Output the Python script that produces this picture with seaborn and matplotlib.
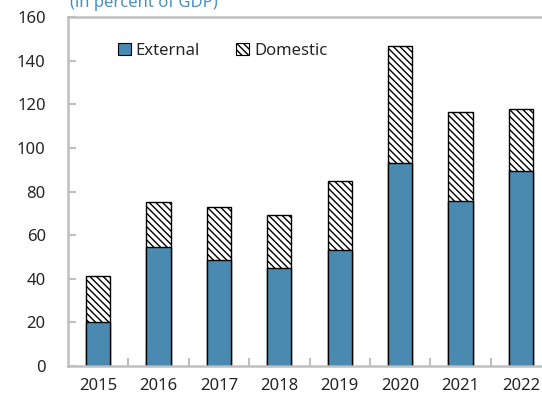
import matplotlib
matplotlib.use("Agg")
import matplotlib.pyplot as plt
import seaborn as sns
import pandas as pd
from matplotlib.patches import Patch

years = ["2015", "2016", "2017", "2018", "2019", "2020", "2021", "2022"]
external = [20.2, 54.5, 48.5, 45.0, 53.0, 93.0, 75.5, 89.5]
total = [41.4, 75.3, 72.8, 69.0, 84.6, 146.8, 116.3, 118.0]
domestic = [t - e for t, e in zip(total, external)]

df = pd.DataFrame({"year": years, "External": external,
                   "Domestic": domestic, "Total": total})

sns.set_style("white")
plt.rcParams["font.family"] = ["Noto Sans", "DejaVu Sans"]
plt.rcParams["hatch.linewidth"] = 1.0

BLUE = "#4a89b0"
GRAY = "#bfbfbf"
HATCH = "\\" * 5

fig = plt.figure(figsize=(5.42, 4.04), dpi=100)
ax = fig.add_axes([68 / 542, 38 / 404, (551 - 68) / 542, (366 - 17) / 404])

sns.barplot(data=df, x="year", y="Total", order=years, color="white",
            edgecolor="black", linewidth=1.0, width=0.4, hatch=HATCH,
            saturation=1, ax=ax, errorbar=None)
sns.barplot(data=df, x="year", y="External", order=years, color=BLUE,
            edgecolor="black", linewidth=1.0, width=0.4,
            saturation=1, ax=ax, errorbar=None)

ax.set_ylim(0, 160)
ax.set_xlim(-0.5, 7.5)
ax.set_yticks(range(0, 161, 20))
ax.set_xlabel("")
ax.set_ylabel("")

for side in ["left", "bottom", "top"]:
    ax.spines[side].set_visible(True)
    ax.spines[side].set_color(GRAY)
    ax.spines[side].set_linewidth(1.8)
ax.spines["right"].set_visible(False)

ax.tick_params(axis="y", direction="in", length=6, width=1.5, color=GRAY,
               pad=16, labelsize=12, left=True)
ax.tick_params(axis="x", which="major", length=0, pad=9, labelsize=12)
ax.set_xticks([i + 0.5 for i in range(7)], minor=True)
ax.tick_params(axis="x", which="minor", direction="in", length=6,
               width=1.5, color=GRAY, bottom=True)

handles = [Patch(facecolor=BLUE, edgecolor="black", linewidth=0.8, label="External"),
           Patch(facecolor="white", edgecolor="black", linewidth=0.8,
                 hatch=HATCH, label="Domestic")]
fig.legend(handles=handles, loc="center left", bbox_to_anchor=(118 / 542, 1 - 51 / 404),
           ncol=2, frameon=False, fontsize=12, handlelength=0.75,
           handleheight=0.75, handletextpad=0.3, columnspacing=2.2,
           borderaxespad=0, borderpad=0)

fig.text(70 / 542, 1 - 7 / 404, "(in percent of GDP)", color="#4a90c8",
         fontsize=12, ha="left", va="baseline")

fig.savefig("out.png", dpi=100)
